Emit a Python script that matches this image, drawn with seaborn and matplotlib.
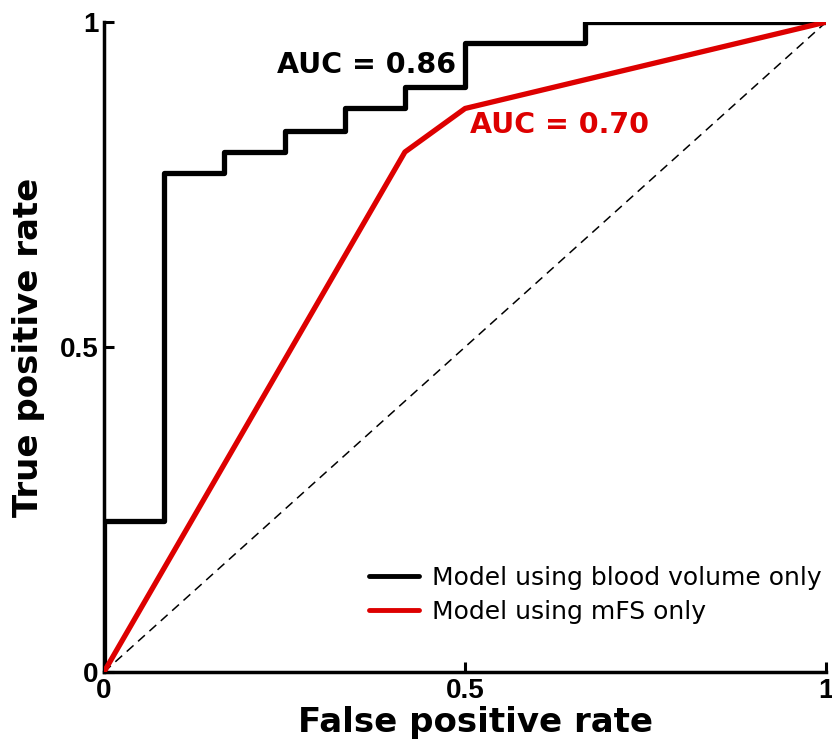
import matplotlib

matplotlib.use("Agg")
import matplotlib.pyplot as plt
import pandas as pd
import seaborn as sns

# ROC curve points (step vertices for the blood volume model)
bv_fpr = [0, 0, 1 / 12, 1 / 12, 2 / 12, 2 / 12, 3 / 12, 3 / 12, 4 / 12, 4 / 12,
          5 / 12, 5 / 12, 6 / 12, 6 / 12, 8 / 12, 8 / 12, 1]
bv_tpr = [0, 0.233, 0.233, 0.767, 0.767, 0.8, 0.8, 0.833, 0.833, 0.867,
          0.867, 0.9, 0.9, 0.967, 0.967, 1, 1]
mfs_fpr = [0, 5 / 12, 0.5, 1]
mfs_tpr = [0, 0.8, 0.867, 1]
labels = ["Model using blood volume only", "Model using mFS only"]
auc_text = ["AUC = 0.86", "AUC = 0.70"]

sns.set_style("white", {"text.color": "black", "axes.labelcolor": "black",
                        "xtick.color": "black", "ytick.color": "black"})

bv = pd.DataFrame({"fpr": bv_fpr, "tpr": bv_tpr, "model": labels[0]})
mfs = pd.DataFrame({"fpr": mfs_fpr, "tpr": mfs_tpr, "model": labels[1]})
df = pd.concat([bv, mfs], ignore_index=True)

fig = plt.figure(figsize=(8.32, 7.49), dpi=100)
ax = fig.add_axes([0.125, 0.1028, 0.868, 0.8678])

ax.plot([0, 1], [0, 1], ls=(0, (6, 4)), color="black", lw=1.1, zorder=1)
sns.lineplot(data=df, x="fpr", y="tpr", hue="model", sort=False, estimator=None,
             palette=["black", "#dd0000"], lw=3.8, ax=ax, zorder=3)

ax.text(0.24, 0.934, auc_text[0], fontsize=20.5, fontweight="bold", color="black",
        family="DejaVu Sans", va="center", ha="left")
ax.text(0.507, 0.842, auc_text[1], fontsize=20.5, fontweight="bold", color="#dd0000",
        family="DejaVu Sans", va="center", ha="left")

ax.set_xlim(0, 1)
ax.set_ylim(0, 1)
ax.set_xticks([0, 0.5, 1])
ax.set_yticks([0, 0.5, 1])
ax.set_xticklabels(["0", "0.5", "1"])
ax.set_yticklabels(["0", "0.5", "1"])
for lab in ax.get_xticklabels() + ax.get_yticklabels():
    lab.set_fontfamily("Liberation Sans")
    lab.set_fontweight("bold")
    lab.set_fontsize(20)
ax.tick_params(direction="in", length=7, width=2.2, color="black", pad=4,
               bottom=True, left=True)

for side in ["top", "right"]:
    ax.spines[side].set_visible(False)
for side in ["left", "bottom"]:
    ax.spines[side].set_linewidth(2.5)
    ax.spines[side].set_color("black")

ax.set_xlabel("False positive rate", fontsize=24.5, fontweight="bold",
              family="DejaVu Sans")
ax.set_ylabel("True positive rate", fontsize=24.5, fontweight="bold",
              family="DejaVu Sans")
ax.xaxis.set_label_coords(0.514, -0.052)
ax.yaxis.set_label_coords(-0.082, 0.5)

leg = ax.legend(loc="center left", bbox_to_anchor=(0.367, 0.119), frameon=False,
                prop={"family": "DejaVu Sans", "size": 18}, handlelength=2.0,
                handletextpad=0.5, labelspacing=0.4, borderpad=0,
                borderaxespad=0)
for line in leg.get_lines():
    line.set_linewidth(3.5)

fig.savefig("out.png", dpi=100)
